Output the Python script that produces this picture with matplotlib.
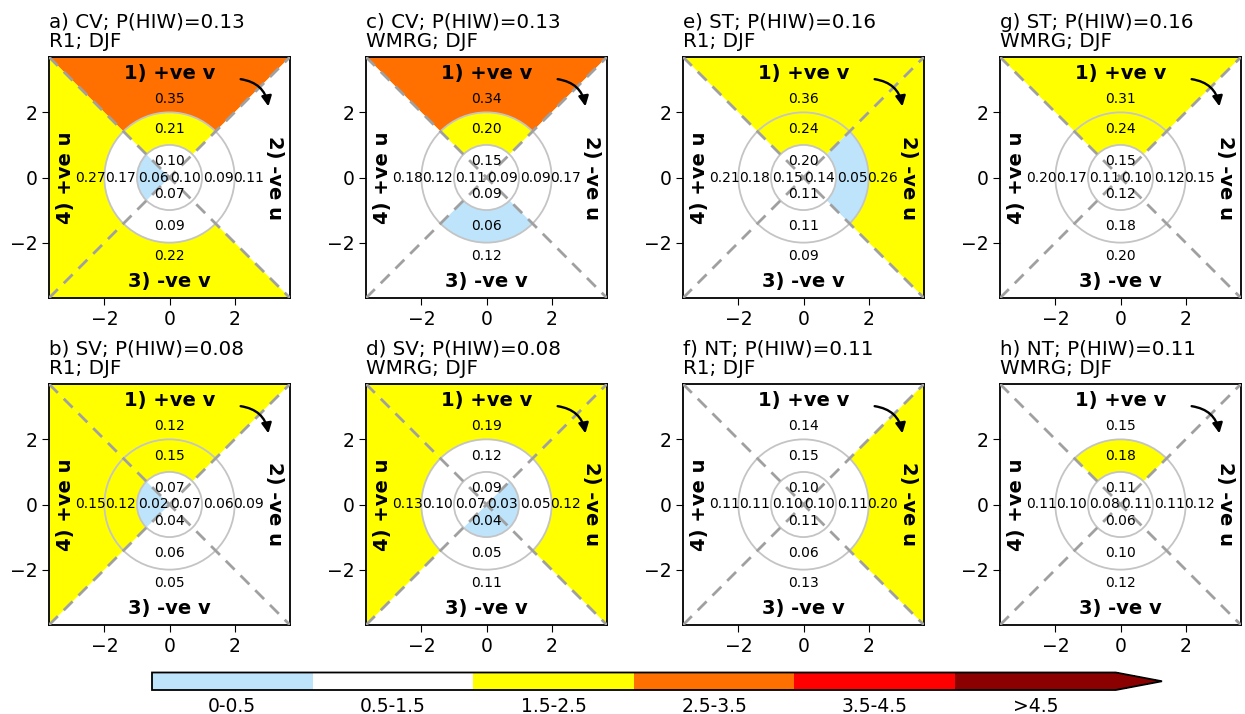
import numpy as np
import matplotlib
matplotlib.use("Agg")
import matplotlib.pyplot as plt
from matplotlib.patches import Wedge, Circle
from matplotlib.colors import ListedColormap, BoundaryNorm
from matplotlib.colorbar import ColorbarBase

# Panel metadata
panel_letters = ["a", "b", "c", "d", "e", "f", "g", "h"]
regime = ["CV", "SV", "CV", "SV", "ST", "NT", "ST", "NT"]
dataset = ["R1", "R1", "WMRG", "WMRG", "R1", "R1", "WMRG", "WMRG"]
season = "DJF"
p_hiw = [0.13, 0.08, 0.13, 0.08, 0.16, 0.11, 0.16, 0.11]

# P(HIW) in each sector; order within each list: 1) +ve v, 2) -ve u, 3) -ve v, 4) +ve u
outer_vals = [
    [0.35, 0.11, 0.22, 0.27],
    [0.122, 0.09, 0.05, 0.15],
    [0.34, 0.17, 0.12, 0.18],
    [0.19, 0.122, 0.11, 0.13],
    [0.36, 0.26, 0.09, 0.21],
    [0.14, 0.20, 0.13, 0.11],
    [0.31, 0.15, 0.20, 0.20],
    [0.15, 0.12, 0.12, 0.11],
]
ring_vals = [
    [0.21, 0.09, 0.09, 0.17],
    [0.15, 0.06, 0.06, 0.122],
    [0.20, 0.09, 0.06, 0.12],
    [0.118, 0.05, 0.05, 0.10],
    [0.242, 0.05, 0.11, 0.18],
    [0.15, 0.11, 0.06, 0.11],
    [0.242, 0.12, 0.18, 0.17],
    [0.18, 0.11, 0.10, 0.10],
]
inner_vals = [
    [0.10, 0.10, 0.07, 0.06],
    [0.07, 0.07, 0.041, 0.02],
    [0.15, 0.09, 0.09, 0.11],
    [0.09, 0.03, 0.039, 0.07],
    [0.20, 0.14, 0.11, 0.15],
    [0.10, 0.10, 0.11, 0.10],
    [0.15, 0.10, 0.12, 0.11],
    [0.11, 0.11, 0.06, 0.08],
]

sector_names = ["1) +ve v", "2) -ve u", "3) -ve v", "4) +ve u"]
class_labels = ["0-0.5", "0.5-1.5", "1.5-2.5", "2.5-3.5", "3.5-4.5", ">4.5"]
class_bounds = [0, 0.5, 1.5, 2.5, 3.5, 4.5, 5.5]
class_colors = ["#bee4fc", "#ffffff", "#ffff00", "#ff7000", "#ff0000", "#8b0000"]

cmap = ListedColormap(class_colors)
cmap.set_over("#8b0000")
norm = BoundaryNorm(class_bounds, cmap.N)

# sector angular ranges (degrees) and unit directions
theta_ranges = [(45, 135), (-45, 45), (225, 315), (135, 225)]
directions = [(0, 1), (1, 0), (0, -1), (-1, 0)]

fig = plt.figure(figsize=(12.45, 7.14), dpi=100)

col_left = [49, 366, 683, 1000]
row_top = [57, 384]
W, H = 1245.0, 714.0
size = 241.0

lim = 3.7
for i in range(8):
    col = i // 2
    row = i % 2
    left = col_left[col] / W
    bottom = 1 - (row_top[row] + size) / H
    ax = fig.add_axes([left, bottom, size / W, size / H])
    ax.set_xlim(-lim, lim)
    ax.set_ylim(-lim, lim)

    p = p_hiw[i]
    for s in range(4):
        t1, t2 = theta_ranges[s]
        for vals, r_out, width in ((outer_vals, 8.0, 6.0),
                                   (ring_vals, 2.0, 1.0),
                                   (inner_vals, 1.0, None)):
            ratio = round(vals[i][s] / p, 6)
            fc = cmap(norm(ratio))
            w = Wedge((0, 0), r_out, t1, t2, width=width, facecolor=fc,
                      edgecolor="none", zorder=1)
            ax.add_patch(w)

    for r in (1, 2):
        ax.add_patch(Circle((0, 0), r, facecolor="none", edgecolor="#c4c4c4",
                            lw=1.3, zorder=2))

    xs = np.array([-lim, lim])
    ax.plot(xs, xs, ls="--", color="#a0a0a0", lw=2, dashes=(4.5, 3), zorder=3)
    ax.plot(xs, -xs, ls="--", color="#a0a0a0", lw=2, dashes=(4.5, 3), zorder=3)

    # values in each sector
    for s in range(4):
        dx, dy = directions[s]
        for vals, d in ((inner_vals, 0.5), (ring_vals, 1.5), (outer_vals, 2.42)):
            ax.text(dx * d, dy * d, f"{vals[i][s]:.2f}", ha="center", va="center",
                    fontsize=10, zorder=5)

    # sector names
    ax.text(0, 3.2, sector_names[0], ha="center", va="center", fontsize=14,
            fontweight="bold", zorder=6)
    ax.text(3.22, 0, sector_names[1], ha="center", va="center", fontsize=14,
            fontweight="bold", rotation=-90, zorder=6)
    ax.text(0, -3.18, sector_names[2], ha="center", va="center", fontsize=14,
            fontweight="bold", zorder=6)
    ax.text(-3.2, 0, sector_names[3], ha="center", va="center", fontsize=14,
            fontweight="bold", rotation=90, zorder=6)

    ax.annotate("", xy=(3.05, 2.1), xytext=(2.1, 3.03),
                arrowprops=dict(arrowstyle="-|>", color="black", lw=1.7,
                                mutation_scale=15,
                                connectionstyle="arc3,rad=-0.4"), zorder=7)

    ax.set_xticks([-2, 0, 2])
    ax.set_yticks([-2, 0, 2])
    ax.tick_params(labelsize=13.5, length=5)
    for sp in ax.spines.values():
        sp.set_linewidth(1.3)

    ax.set_title(f"{panel_letters[i]}) {regime[i]}; P(HIW)={p:.2f}\n{dataset[i]}; {season}",
                 loc="left", fontsize=14.3, pad=7, linespacing=1.05)

# colour bar
cax = fig.add_axes([152 / W, 1 - 690 / H, (1162 - 152) / W, 17.5 / H])
cb = ColorbarBase(cax, cmap=cmap, norm=norm, boundaries=class_bounds,
                  extend="max", orientation="horizontal", extendfrac=0.048,
                  spacing="uniform")
centers = [0.25, 1.0, 2.0, 3.0, 4.0, 5.0]
cb.set_ticks(centers)
cb.set_ticklabels(class_labels)
cb.minorticks_off()
cax.tick_params(which="both", labelsize=13.5, length=0, pad=5)
cb.outline.set_linewidth(1.3)

fig.savefig("out.png", dpi=100)
